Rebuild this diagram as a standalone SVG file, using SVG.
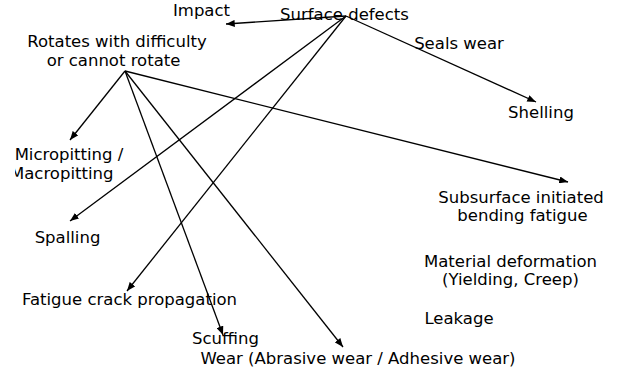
<svg xmlns="http://www.w3.org/2000/svg" width="618" height="372" viewBox="0 0 618 372">
  <style>
    text { font-family: "DejaVu Sans", "Liberation Sans", sans-serif; font-size: 16.5px; fill: #000; }
    .c { text-anchor: middle; }
    .edge { stroke: #000; stroke-width: 1.3; fill: none; marker-end: url(#arrow); }
  </style>
  <defs>
    <marker id="arrow" viewBox="0 0 10 8" refX="10" refY="4" markerWidth="9" markerHeight="7" markerUnits="userSpaceOnUse" orient="auto">
      <path d="M0,0 L10,4 L0,8 z" fill="#000"/>
    </marker>
    <clipPath id="leftEdge">
      <rect x="15" y="160" width="200" height="30"/>
    </clipPath>
  </defs>

  <!-- connectors -->
  <g id="connectors">
    <line class="edge" x1="346" y1="16" x2="226" y2="24"/>
    <line class="edge" x1="346" y1="16" x2="536" y2="102"/>
    <line class="edge" x1="346" y1="16" x2="70" y2="221"/>
    <line class="edge" x1="346" y1="16" x2="127" y2="291"/>
    <line class="edge" x1="125" y1="71" x2="70" y2="140"/>
    <line class="edge" x1="125" y1="71" x2="568" y2="182"/>
    <line class="edge" x1="125" y1="71" x2="223" y2="335"/>
    <line class="edge" x1="125" y1="71" x2="343" y2="347"/>
  </g>

  <!-- nodes -->
  <g id="impact"><text class="c" x="201.5" y="16">Impact</text></g>
  <g id="surface-defects"><text class="c" x="344.5" y="20">Surface defects</text></g>
  <g id="seals-wear"><text class="c" x="459" y="49">Seals wear</text></g>
  <g id="rotates">
    <text class="c" x="117" y="47">Rotates with difficulty</text>
    <text class="c" x="113.5" y="66">or cannot rotate</text>
  </g>
  <g id="shelling"><text class="c" x="541" y="118">Shelling</text></g>
  <g id="pitting">
    <text class="c" x="69" y="160">Micropitting /</text>
    <text x="10" y="179" clip-path="url(#leftEdge)">Macropitting</text>
  </g>
  <g id="subsurface">
    <text class="c" x="521" y="203">Subsurface initiated</text>
    <text class="c" x="522.5" y="221">bending fatigue</text>
  </g>
  <g id="spalling"><text class="c" x="67.5" y="243">Spalling</text></g>
  <g id="material-deformation">
    <text class="c" x="510.5" y="267">Material deformation</text>
    <text class="c" x="510.5" y="285">(Yielding, Creep)</text>
  </g>
  <g id="fatigue-crack"><text class="c" x="129.5" y="305">Fatigue crack propagation</text></g>
  <g id="leakage"><text class="c" x="459" y="324">Leakage</text></g>
  <g id="scuffing"><text class="c" x="225.5" y="344">Scuffing</text></g>
  <g id="wear"><text class="c" x="358" y="364">Wear (Abrasive wear / Adhesive wear)</text></g>
</svg>
